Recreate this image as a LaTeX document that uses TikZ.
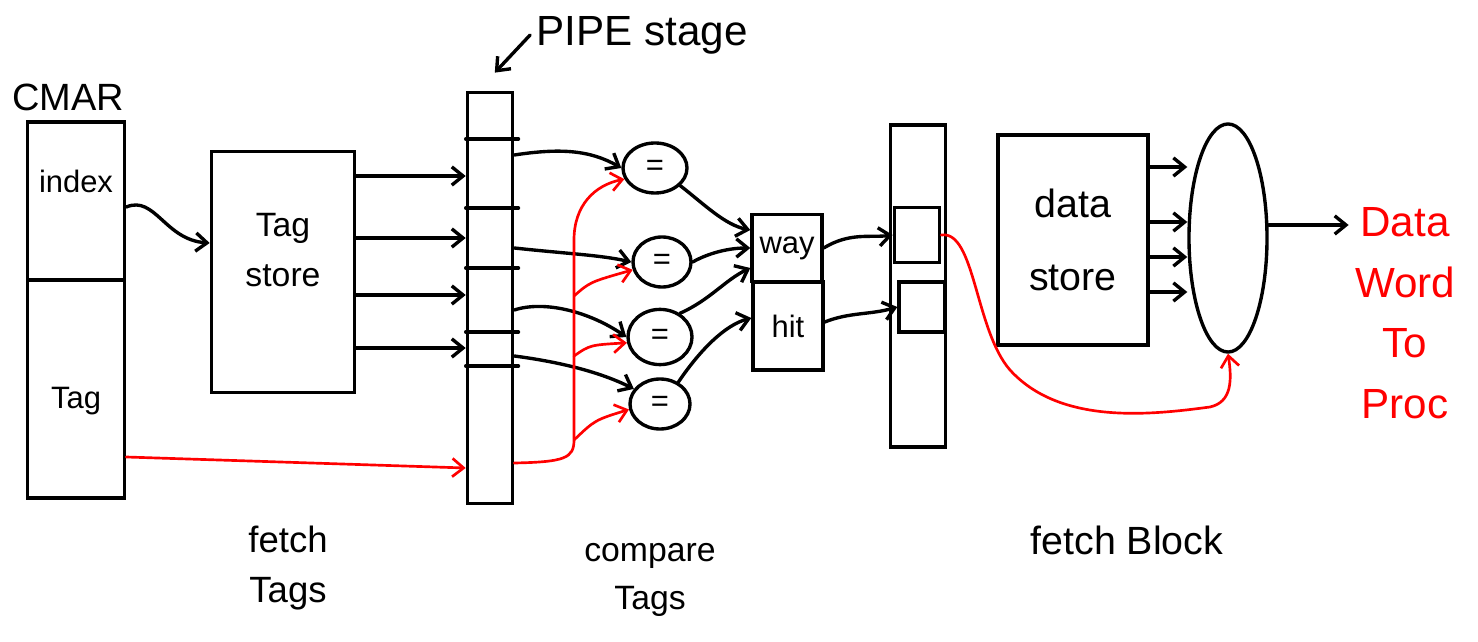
\documentclass[tikz,border=0pt]{standalone}
\usepackage{fontspec}
\setmainfont{Liberation Sans}
\usetikzlibrary{arrows.meta,positioning,calc,shapes.geometric}
\newcommand{\fs}[2]{\fontsize{#1}{#2}\selectfont}

\begin{document}
\begin{tikzpicture}[x=0.025cm,y=-0.025cm,>={Straight Barb[length=8pt,width=13pt]},line width=2.4pt,line cap=round,every node/.style={font=\fs{22}{30},align=center},every label/.style={align=center}]
\tikzstyle{b}=[draw,minimum width=2.43cm,inner sep=0pt]
\tikzstyle{eq}=[draw,ellipse,minimum width=1.6cm,minimum height=1.25cm,inner sep=0pt]
\tikzstyle{rd}=[red,line width=1.9pt]
\useasboundingbox (0,0) rectangle (1478,642);
\node[font=\fs{27}{30}] (cm) at (68,97) {CMAR};
\node[b,minimum height=3.95cm,label={[yshift=0.5cm]center:index}] (ix) at (76,201) {};
\node[b,minimum height=5.45cm,label={[yshift=-0.3cm]center:Tag}] (tg) at (76,389) {};
\node[b,minimum width=3.58cm,minimum height=6.03cm,label={[yshift=0.55cm,font=\fs{24}{36}]center:{Tag\\store}}] (ts) at (283,272) {};
\node[b,minimum width=1.13cm,minimum height=10.28cm] (p1) at (490,298) {};
\node[font=\fs{30}{30}] (ps) at (642,35) {PIPE stage};
\node[eq] (c1) at (655,168) {=};
\node[eq,minimum width=1.45cm] (c2) at (662,262) {=};
\node[eq,minimum height=1.38cm] (c3) at (660,337) {=};
\node[eq,minimum width=1.5cm] (c4) at (660,404) {=};
\node[b,minimum width=1.75cm,minimum height=1.68cm] (w) at (787,248) {way};
\node[b,minimum width=1.75cm,minimum height=2.2cm] (h) at (788,326) {hit};
\node[b,minimum width=1.38cm,minimum height=8.05cm] (p2) at (918,286) {};
\node[b,minimum width=1.13cm,minimum height=1.38cm] (s1) at (917,235) {};
\node[b,minimum width=1.15cm,minimum height=1.25cm] (s2) at (922,307) {};
\node[b,minimum width=3.75cm,minimum height=5.25cm,font=\fs{28}{52}] (ds) at (1073,240) {data\\store};
\node[draw,ellipse,minimum width=1.95cm,minimum height=5.7cm] (mx) at (1228,238) {};
\node[red,font=\fs{30}{43}] (dw) at (1405,313) {Data\\Word\\To\\Proc};
\node[font=\fs{26}{36}] (ft) at (288,568) {fetch\\Tags};
\node[font=\fs{24}{34}] (ct) at (650,580) {compare\\Tags};
\node[font=\fs{28}{30}] (fb) at (1127,540) {fetch Block};
\coordinate (r2) at (574,296);\coordinate (r3) at (574,356);\coordinate (r4) at (574,440);
\foreach \y in {139,208,268,332,366} \draw (p1.west |- 0,\y) -- ([xshift=3pt]p1.east |- 0,\y);
\draw[->] (ps.west) -- ([xshift=0.12cm,yshift=0.45cm]p1.north);
\draw[->] (ix.east |- 0,207) .. controls (155,195) and (165,240) .. (ts.west |- 0,243);
\foreach \y in {176,238,295,348} \draw[->] (ts.east |- 0,\y) -- (p1.west |- 0,\y);
\draw[->] (p1.east |- 0,155) .. controls (560,148) and (590,150) .. (c1.west);
\draw[->] (p1.east |- 0,248) .. controls (570,254) and (600,255) .. (c2.west);
\draw[->] (p1.east |- 0,310) .. controls (545,300) and (590,312) .. (c3.west);
\draw[->] (p1.east |- 0,356) .. controls (560,362) and (600,372) .. (c4.150);
\draw[rd,->] (tg.east |- 0,457) -- (p1.west |- 0,468);
\draw[rd,->] (p1.east |- 0,463) .. controls (565,462) and (574,458) .. (r4) -- (r3) -- (r2) -- (574,240) .. controls (574,205) and (595,185) .. (c1.200);
\draw[rd,->] (r2) .. controls (590,282) .. (c2.195);
\draw[rd,->] (r3) .. controls (590,345) .. (c3.190);
\draw[rd,->] (r4) .. controls (595,420) .. (c4.190);
\draw[->] (c1.-35) .. controls (705,205) and (725,225) .. (w.west |- 0,230);
\draw[->] (c2.east) .. controls (705,255) and (725,248) .. (w.west |- 0,248);
\draw[->] (c3.50) .. controls (710,300) and (725,280) .. (w.west |- 0,268);
\draw[->] (c4.50) .. controls (700,350) and (725,325) .. (h.west |- 0,318);
\draw[->] (w.east) .. controls (850,232) and (870,238) .. (s1.west);
\draw[->] (h.east |- 0,322) .. controls (850,312) and (870,315) .. (s2.west);
\draw[rd,->] (s1.east) .. controls (975,230) and (975,330) .. (1010,370) .. controls (1060,425) and (1150,415) .. (1210,407) .. controls (1232,402) and (1232,380) .. (mx.south);
\foreach \y in {167,222,257,292} \draw[->] (ds.east |- 0,\y) -- (mx.west |- 0,\y);
\draw[->] (mx.east |- 0,225) -- (dw.west |- 0,225);
\end{tikzpicture}
\end{document}
